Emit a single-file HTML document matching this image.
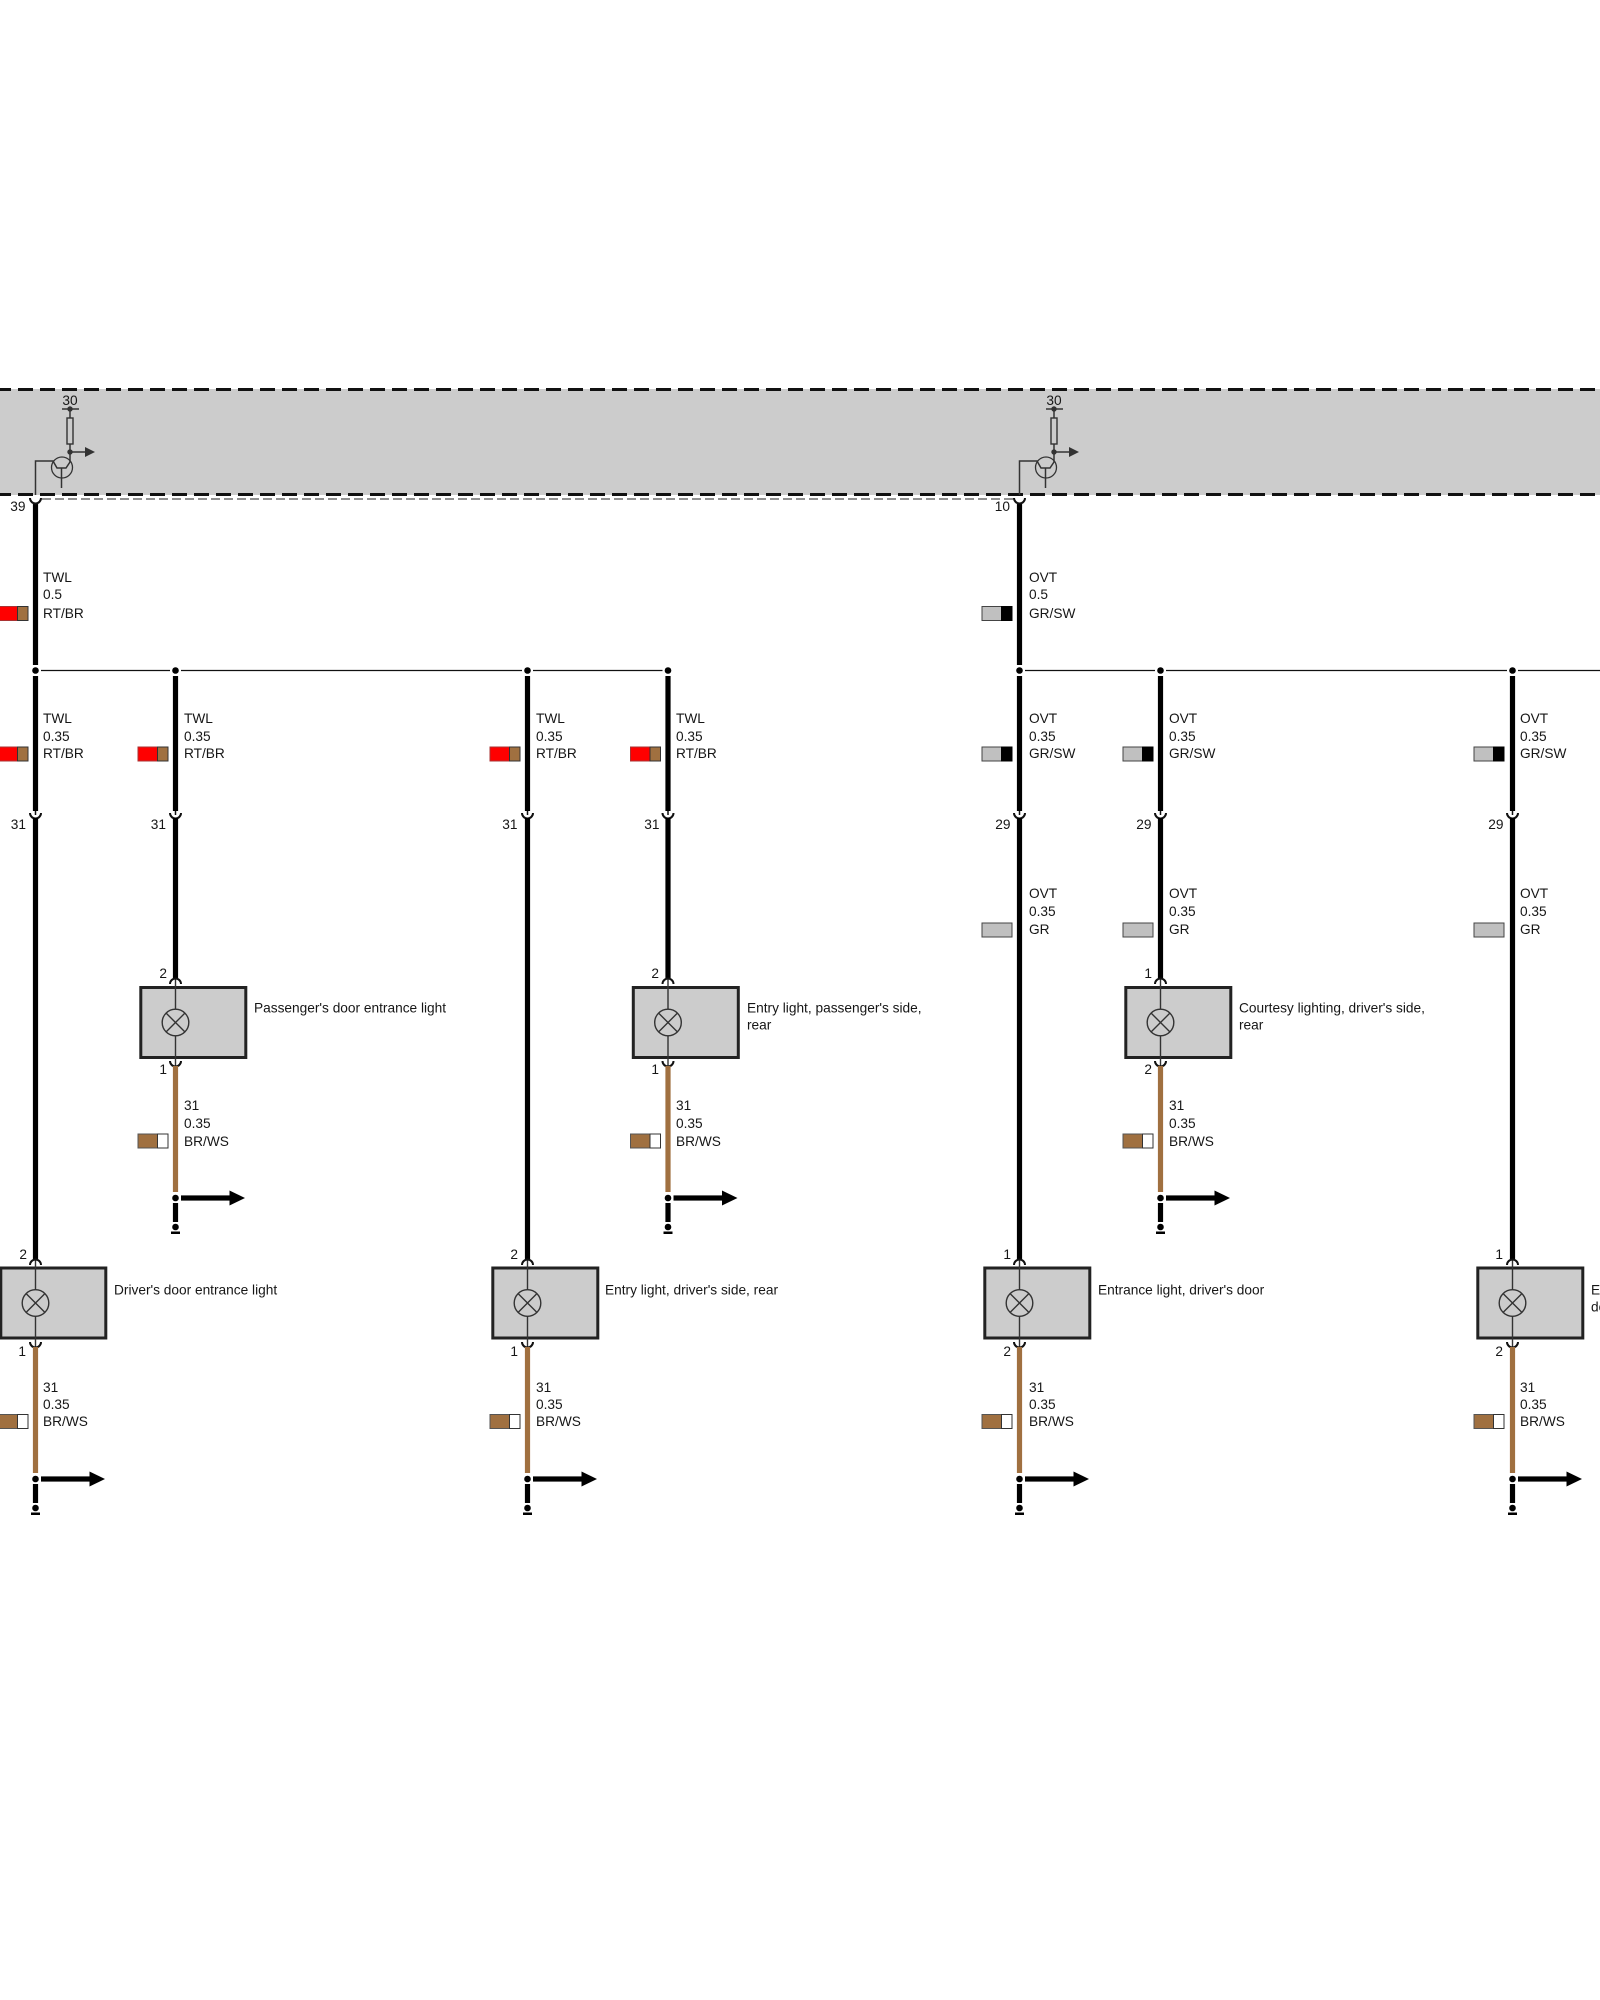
<!DOCTYPE html>
<html><head><meta charset="utf-8"><style>
html,body{margin:0;padding:0;background:#fff}
svg{display:block}
text{font-family:"Liberation Sans",Arial,sans-serif;font-size:13.7px;fill:#161616}
</style></head><body>
<svg xmlns="http://www.w3.org/2000/svg" width="1600" height="2000" viewBox="0 0 1600 2000">
<defs>
<g id="lamp" fill="none" stroke="#333" stroke-width="1.4">
<circle r="13.3"/><path d="M-9.5-9.5L9.5 9.5M-9.5 9.5L9.5-9.5"/>
</g>
<g id="arcU"><path d="M-5.5-3A5.5 5.5 0 0 0 5.5-3" fill="none" stroke="#111" stroke-width="2"/></g>
<g id="arcD"><path d="M-5.5 3A5.5 5.5 0 0 1 5.5 3" fill="none" stroke="#111" stroke-width="2"/></g>
<g id="sRB"><rect x="-37.5" y="-7" width="19.5" height="14" fill="#f00" stroke="#a33" stroke-width="1"/><rect x="-18" y="-7" width="10.5" height="14" fill="#a07040" stroke="#333" stroke-width="1"/></g>
<g id="sGS"><rect x="-37.5" y="-7" width="19.5" height="14" fill="#c0c0c0" stroke="#444" stroke-width="1"/><rect x="-18" y="-7" width="10.5" height="14" fill="#000" stroke="#000" stroke-width="1"/></g>
<g id="sG"><rect x="-37.5" y="-7" width="30" height="14" fill="#c0c0c0" stroke="#444" stroke-width="1"/></g>
<g id="sBW"><rect x="-37.5" y="-7" width="19.5" height="14" fill="#a07040" stroke="#555" stroke-width="1"/><rect x="-18" y="-7" width="10.5" height="14" fill="#fff" stroke="#333" stroke-width="1"/></g>
<g id="mid"><rect x="-2.6" y="676" width="5.2" height="135" fill="#000"/><use href="#arcU" y="816"/><path d="M0 811V815" stroke="#111" stroke-width="1.5"/></g>
<g id="ground">
<rect x="-2.6" width="5.2" height="19" y="5" fill="#000"/>
<circle r="3.3" fill="#000"/><circle cy="29" r="3.3" fill="#000"/><rect x="-4.5" y="33.5" width="9" height="2.5" fill="#000"/>
<rect x="5.5" y="-2.6" width="50" height="5.2" fill="#000"/><path d="M54-7.5L69.5 0L54 7.5Z" fill="#000"/>
</g>
<g id="boxU">
<rect x="-34.7" y="987.5" width="105" height="70" fill="#ccc" stroke="#222" stroke-width="3"/>
<path d="M0 979V1009M0 1036V1066" stroke="#333" stroke-width="1.4"/>
<use href="#lamp" y="1022.5"/>
<rect x="-2.6" y="818" width="5.2" height="160" fill="#000"/>
<use href="#arcD" y="981"/><use href="#arcU" y="1064"/>
<rect x="-2.6" y="1066" width="5.2" height="126" fill="#a07040"/>
<use href="#ground" y="1198"/>
</g>
<g id="boxL">
<rect x="-34.7" y="1268" width="105" height="70" fill="#ccc" stroke="#222" stroke-width="3"/>
<path d="M0 1260V1289.5M0 1316.5V1347" stroke="#333" stroke-width="1.4"/>
<use href="#lamp" y="1303"/>
<rect x="-2.6" y="818" width="5.2" height="441" fill="#000"/>
<use href="#arcD" y="1262"/><use href="#arcU" y="1345"/>
<rect x="-2.6" y="1347" width="5.2" height="126" fill="#a07040"/>
<use href="#ground" y="1479"/>
</g>
<g id="tran">
<path d="M70 409V418M70 444V462M70 452H85M62 409H79" stroke="#333" stroke-width="1.5" fill="none"/>
<circle cx="70" cy="409" r="2.7" fill="#333"/><circle cx="70" cy="452" r="2.7" fill="#333"/>
<rect x="67" y="418" width="6" height="26" fill="none" stroke="#333" stroke-width="1.4"/>
<path d="M85 447L95 452L85 457Z" fill="#333"/>
<circle cx="62" cy="467.5" r="10.5" fill="none" stroke="#333" stroke-width="1.3"/>
<path d="M35.5 495V461H53L57 468H66L70 462M61.5 468V488" fill="none" stroke="#333" stroke-width="1.5"/>
</g>
</defs>

<rect width="1600" height="2000" fill="#fff"/>
<rect x="0" y="389" width="1600" height="106" fill="#ccc"/>
<path d="M-4 389.5H1600M-4 494.5H1600" stroke="#111" stroke-width="3" stroke-dasharray="15 7" fill="none"/>
<path d="M42 499H1013" stroke="#222" stroke-width="1" stroke-dasharray="9 4" fill="none"/>

<!-- Horizontal buses -->
<path d="M41 670.5H170M181 670.5H522M533 670.5H662.5" stroke="#111" stroke-width="1.2" fill="none"/>
<path d="M1025 670.5H1155M1166 670.5H1507M1518 670.5H1600" stroke="#111" stroke-width="1.2" fill="none"/>

<use href="#tran"/>
<use href="#tran" x="984"/>

<!-- Wires from the band -->
<rect x="32.9" y="503" width="5.2" height="162" fill="#000"/>
<rect x="1016.9" y="503" width="5.2" height="162" fill="#000"/>
<use href="#arcU" x="35.5" y="501"/>
<use href="#arcU" x="1019.5" y="501"/>

<!-- Columns -->
<g transform="translate(35.5 0)"><use href="#mid"/><use href="#boxL"/><circle cy="670.5" r="3.3" fill="#000"/></g>
<g transform="translate(175.5 0)"><use href="#mid"/><use href="#boxU"/><circle cy="670.5" r="3.3" fill="#000"/></g>
<g transform="translate(527.5 0)"><use href="#mid"/><use href="#boxL"/><circle cy="670.5" r="3.3" fill="#000"/></g>
<g transform="translate(668 0)"><use href="#mid"/><use href="#boxU"/><circle cy="670.5" r="3.3" fill="#000"/></g>
<g transform="translate(1019.5 0)"><use href="#mid"/><use href="#boxL"/><circle cy="670.5" r="3.3" fill="#000"/></g>
<g transform="translate(1160.5 0)"><use href="#mid"/><use href="#boxU"/><circle cy="670.5" r="3.3" fill="#000"/></g>
<g transform="translate(1512.5 0)"><use href="#mid"/><use href="#boxL"/><circle cy="670.5" r="3.3" fill="#000"/></g>

<!-- Swatches -->
<use href="#sRB" x="35.5" y="613.5"/><use href="#sRB" x="35.5" y="754"/>
<use href="#sRB" x="175.5" y="754"/><use href="#sRB" x="527.5" y="754"/><use href="#sRB" x="668" y="754"/>
<use href="#sGS" x="1019.5" y="613.5"/><use href="#sGS" x="1019.5" y="754"/>
<use href="#sGS" x="1160.5" y="754"/><use href="#sGS" x="1511.5" y="754"/>
<use href="#sG" x="1019.5" y="930"/><use href="#sG" x="1160.5" y="930"/><use href="#sG" x="1511.5" y="930"/>
<use href="#sBW" x="175.5" y="1141"/><use href="#sBW" x="668" y="1141"/><use href="#sBW" x="1160.5" y="1141"/>
<use href="#sBW" x="35.5" y="1421.5"/><use href="#sBW" x="527.5" y="1421.5"/><use href="#sBW" x="1019.5" y="1421.5"/><use href="#sBW" x="1511.5" y="1421.5"/>

<!-- Top labels -->
<text x="70" y="405" text-anchor="middle">30</text>
<text x="1054" y="405" text-anchor="middle">30</text>
<text x="25.5" y="511" text-anchor="end">39</text>
<text x="1010" y="511" text-anchor="end">10</text>

<text x="43" y="582">TWL</text><text x="43" y="599">0.5</text><text x="43" y="618">RT/BR</text>
<text x="1029" y="582">OVT</text><text x="1029" y="599">0.5</text><text x="1029" y="618">GR/SW</text>

<text x="43" y="723">TWL</text><text x="43" y="741">0.35</text><text x="43" y="758">RT/BR</text>
<text x="184" y="723">TWL</text><text x="184" y="741">0.35</text><text x="184" y="758">RT/BR</text>
<text x="536" y="723">TWL</text><text x="536" y="741">0.35</text><text x="536" y="758">RT/BR</text>
<text x="676" y="723">TWL</text><text x="676" y="741">0.35</text><text x="676" y="758">RT/BR</text>
<text x="1029" y="723">OVT</text><text x="1029" y="741">0.35</text><text x="1029" y="758">GR/SW</text>
<text x="1169" y="723">OVT</text><text x="1169" y="741">0.35</text><text x="1169" y="758">GR/SW</text>
<text x="1520" y="723">OVT</text><text x="1520" y="741">0.35</text><text x="1520" y="758">GR/SW</text>

<!-- Mid pin labels -->
<text x="26" y="829" text-anchor="end">31</text>
<text x="166" y="829" text-anchor="end">31</text>
<text x="517.5" y="829" text-anchor="end">31</text>
<text x="659.5" y="829" text-anchor="end">31</text>
<text x="1010.5" y="829" text-anchor="end">29</text>
<text x="1151.5" y="829" text-anchor="end">29</text>
<text x="1503.5" y="829" text-anchor="end">29</text>

<text x="1029" y="898">OVT</text><text x="1029" y="916">0.35</text><text x="1029" y="934">GR</text>
<text x="1169" y="898">OVT</text><text x="1169" y="916">0.35</text><text x="1169" y="934">GR</text>
<text x="1520" y="898">OVT</text><text x="1520" y="916">0.35</text><text x="1520" y="934">GR</text>

<!-- Upper box pins -->
<text x="167" y="978" text-anchor="end">2</text><text x="167" y="1074" text-anchor="end">1</text>
<text x="659" y="978" text-anchor="end">2</text><text x="659" y="1074" text-anchor="end">1</text>
<text x="1152" y="978" text-anchor="end">1</text><text x="1152" y="1074" text-anchor="end">2</text>

<text x="254" y="1012.5">Passenger's door entrance light</text>
<text x="747" y="1012.5">Entry light, passenger's side,</text><text x="747" y="1029.5">rear</text>
<text x="1239" y="1012.5">Courtesy lighting, driver's side,</text><text x="1239" y="1029.5">rear</text>

<text x="184" y="1110">31</text><text x="184" y="1128">0.35</text><text x="184" y="1146">BR/WS</text>
<text x="676" y="1110">31</text><text x="676" y="1128">0.35</text><text x="676" y="1146">BR/WS</text>
<text x="1169" y="1110">31</text><text x="1169" y="1128">0.35</text><text x="1169" y="1146">BR/WS</text>

<!-- Lower box pins -->
<text x="27" y="1259" text-anchor="end">2</text><text x="26" y="1356" text-anchor="end">1</text>
<text x="518" y="1259" text-anchor="end">2</text><text x="518" y="1356" text-anchor="end">1</text>
<text x="1011" y="1259" text-anchor="end">1</text><text x="1011" y="1356" text-anchor="end">2</text>
<text x="1503" y="1259" text-anchor="end">1</text><text x="1503" y="1356" text-anchor="end">2</text>

<text x="114" y="1294.5">Driver's door entrance light</text>
<text x="605" y="1294.5">Entry light, driver's side, rear</text>
<text x="1098" y="1294.5">Entrance light, driver's door</text>
<text x="1591" y="1294.5">Entrance light, passenger's</text><text x="1591" y="1311.5">door</text>

<text x="43" y="1392">31</text><text x="43" y="1409">0.35</text><text x="43" y="1426">BR/WS</text>
<text x="536" y="1392">31</text><text x="536" y="1409">0.35</text><text x="536" y="1426">BR/WS</text>
<text x="1029" y="1392">31</text><text x="1029" y="1409">0.35</text><text x="1029" y="1426">BR/WS</text>
<text x="1520" y="1392">31</text><text x="1520" y="1409">0.35</text><text x="1520" y="1426">BR/WS</text>
</svg>
</body></html>
